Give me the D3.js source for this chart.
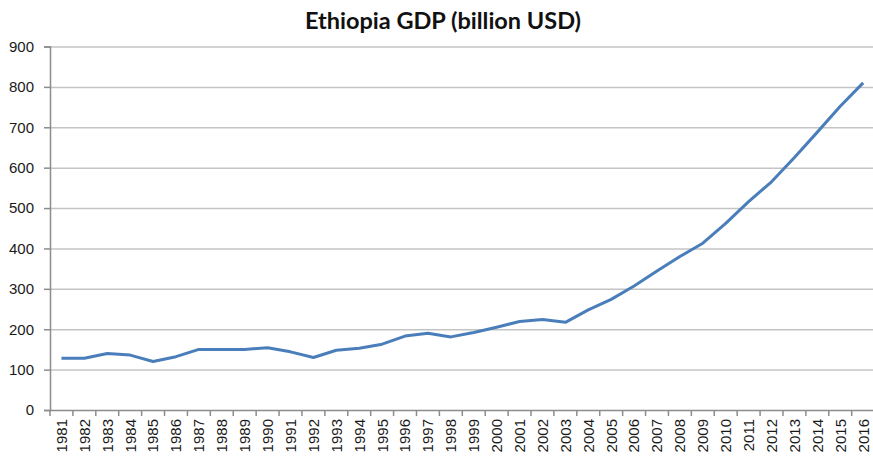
<!DOCTYPE html>
<html>
<head>
<meta charset="utf-8">
<script src="https://cdn.jsdelivr.net/npm/d3@7"></script>
<style>
  body { margin: 0; background: #fff; }
  svg { display: block; font-family: Lato, "Noto Sans", sans-serif; }
  .grid line { stroke: #c4c4c4; stroke-width: 1.5; }
  .grid path { display: none; }
</style>
</head>
<body>
<div id="chart"></div>
<script>
// Ethiopia GDP
const years = ["1981","1982","1983","1984","1985","1986","1987","1988","1989","1990",
               "1991","1992","1993","1994","1995","1996","1997","1998","1999","2000",
               "2001","2002","2003","2004","2005","2006","2007","2008","2009","2010",
               "2011","2012","2013","2014","2015","2016"];
const gdp = [128, 128, 140, 136, 120, 132, 150, 150, 150, 154,
             144, 130, 148, 153, 163, 183, 190, 181, 192, 205,
             219, 224, 217, 248, 274, 307, 344, 380, 413, 462,
             516, 565, 625, 688, 752, 810];
const yTicks = [0, 100, 200, 300, 400, 500, 600, 700, 800, 900];

const W = 873, H = 458;
const plot = {left: 50, right: 874.6, top: 46.5, bottom: 410};

const svg = d3.select("#chart").append("svg")
    .attr("width", W)
    .attr("height", H);

const x = d3.scaleBand().domain(years).range([plot.left, plot.right]);
const y = d3.scaleLinear().domain([0, 900]).range([plot.bottom, plot.top]);

// horizontal gridlines
svg.append("g")
    .attr("class", "grid")
    .attr("transform", `translate(${plot.left},0)`)
    .call(d3.axisLeft(y).tickValues(yTicks.slice(1)).tickSize(-(W - plot.left)).tickFormat(""));

// y axis
const yAxis = svg.append("g")
    .attr("transform", `translate(${plot.left},0)`)
    .call(d3.axisLeft(y).tickValues(yTicks).tickSize(6).tickPadding(10));
yAxis.select(".domain").attr("stroke", "#8c8c8c").attr("stroke-width", 1.5);
yAxis.selectAll(".tick line").attr("stroke", "#8c8c8c").attr("stroke-width", 1.5);
yAxis.selectAll("text").attr("fill", "#1a1a1a").style("font-size", "15px");

// x axis: ticks sit between categories
const xAxis = svg.append("g")
    .attr("transform", `translate(0,${plot.bottom})`)
    .call(d3.axisBottom(x).tickSize(0).tickPadding(6));
xAxis.select(".domain").attr("stroke", "#8c8c8c").attr("stroke-width", 1.5);
xAxis.selectAll("text")
    .attr("fill", "#1a1a1a")
    .style("font-size", "15px")
    .attr("transform", "rotate(-90)")
    .attr("text-anchor", "end")
    .attr("x", -9)
    .attr("y", 0)
    .attr("dy", "0.36em");
xAxis.selectAll(".sep")
    .data(years.concat(["end"]))
    .join("line")
    .attr("class", "sep")
    .attr("x1", (d, i) => plot.left + i * x.step())
    .attr("x2", (d, i) => plot.left + i * x.step())
    .attr("y1", 0)
    .attr("y2", 6)
    .attr("stroke", "#8c8c8c")
    .attr("stroke-width", 1.5);

// the series
const line = d3.line()
    .x((d, i) => x(years[i]) + x.bandwidth() / 2)
    .y(d => y(d));

svg.append("path")
    .datum(gdp)
    .attr("fill", "none")
    .attr("stroke", "#4a7ebb")
    .attr("stroke-width", 3)
    .attr("stroke-linejoin", "round")
    .attr("d", line);

// title
svg.append("text")
    .attr("x", 443)
    .attr("y", 29)
    .attr("text-anchor", "middle")
    .style("font-size", "23.5px")
    .style("font-weight", "bold")
    .attr("fill", "#111")
    .text("Ethiopia GDP (billion USD)");
</script>
</body>
</html>
